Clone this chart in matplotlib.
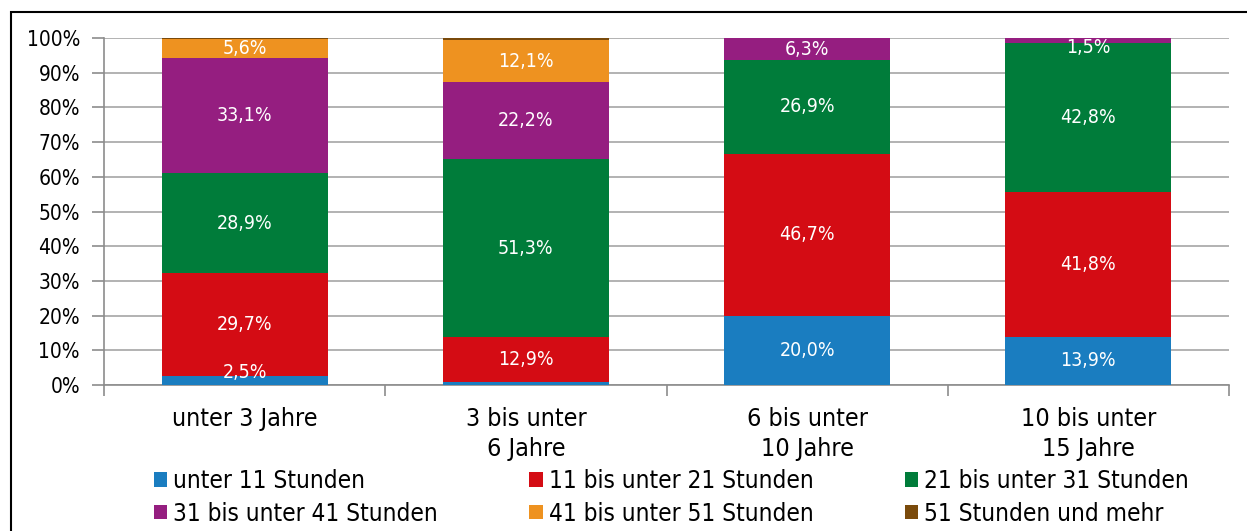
import matplotlib
matplotlib.use("Agg")
import matplotlib.pyplot as plt
from matplotlib.patches import Rectangle, Patch
import numpy as np

categories = ["unter 3 Jahre", "3 bis unter\n6 Jahre", "6 bis unter\n10 Jahre", "10 bis unter\n15 Jahre"]
series_names = ["unter 11 Stunden", "11 bis unter 21 Stunden", "21 bis unter 31 Stunden",
                "31 bis unter 41 Stunden", "41 bis unter 51 Stunden", "51 Stunden und mehr"]
unter_11 = [2.5, 0.8, 20.0, 13.9]
bis_21 = [29.7, 12.9, 46.7, 41.8]
bis_31 = [28.9, 51.3, 26.9, 42.8]
bis_41 = [33.1, 22.2, 6.3, 1.5]
bis_51 = [5.6, 12.1, 0.3, 0.0]
ab_51 = [0.2, 0.7, 0.0, 0.0]
series = [unter_11, bis_21, bis_31, bis_41, bis_51, ab_51]
colors = ["#1a7dc0", "#d40c14", "#007c3a", "#951e80", "#ee9220", "#7a4a0b"]
ytick_vals = list(range(0, 101, 10))

FONT = ["DejaVu Sans"]
plt.rcParams["font.family"] = FONT
plt.rcParams["font.stretch"] = "condensed"

W, H = 1247, 531
fig = plt.figure(figsize=(W / 100, H / 100), dpi=100)
ax = fig.add_axes([104 / W, 146 / H, (1229 - 104) / W, (385 - 38) / H])

x = np.arange(len(categories))
bottom = np.zeros(len(categories))
for vals, col in zip(series, colors):
    vals = np.array(vals)
    ax.bar(x, vals, bottom=bottom, width=0.59, color=col, zorder=3, linewidth=0)
    for xi, v, b in zip(x, vals, bottom):
        if v >= 1.5:
            mid = b + v / 2
            ymid = min(max(mid, 3.5), 97.3)
            ax.text(xi, ymid, f"{v:.1f}%".replace(".", ","), ha="center", va="center",
                    color="white", fontsize=14, zorder=4)
    bottom += vals

ax.set_xlim(-0.5, len(categories) - 0.5)
ax.set_ylim(0, 100)
ax.set_yticks(ytick_vals)
ax.set_yticklabels([f"{v}%" for v in ytick_vals], fontsize=15)
ax.yaxis.grid(True, color="#a6a6a6", linewidth=1.2, zorder=0)
ax.set_axisbelow(True)
ax.set_xticks(x)
ax.set_xticklabels(categories, fontsize=18, linespacing=1.3)
ax.set_xticks(np.arange(-0.5, len(categories)), minor=True)
ax.tick_params(axis="x", which="major", length=0, pad=16)
ax.tick_params(axis="x", which="minor", length=8, color="#8c8c8c", width=1.2)
ax.tick_params(axis="y", length=9, color="#8c8c8c", width=1.2, pad=8.3)
for s in ["top", "right"]:
    ax.spines[s].set_visible(False)
for s in ["left", "bottom"]:
    ax.spines[s].set_color("#8c8c8c")
    ax.spines[s].set_linewidth(1.2)

handles = [Patch(facecolor=c, edgecolor="none") for c in colors]
order = [0, 3, 1, 4, 2, 5]
leg = fig.legend([handles[i] for i in order], [series_names[i] for i in order],
                 ncol=3, loc="center left", bbox_to_anchor=(154 / W, 1 - 497.5 / H),
                 frameon=False, fontsize=17.5, handlelength=0.55, handleheight=0.55,
                 handletextpad=0.25, columnspacing=3.75, labelspacing=0.35,
                 borderaxespad=0, borderpad=0)

fig.add_artist(Rectangle((11 / W, -0.1), 2.0, 1 - 12 / H + 0.1, transform=fig.transFigure,
                         fill=False, edgecolor="black", linewidth=1.5))

fig.savefig("out.png", dpi=100)
